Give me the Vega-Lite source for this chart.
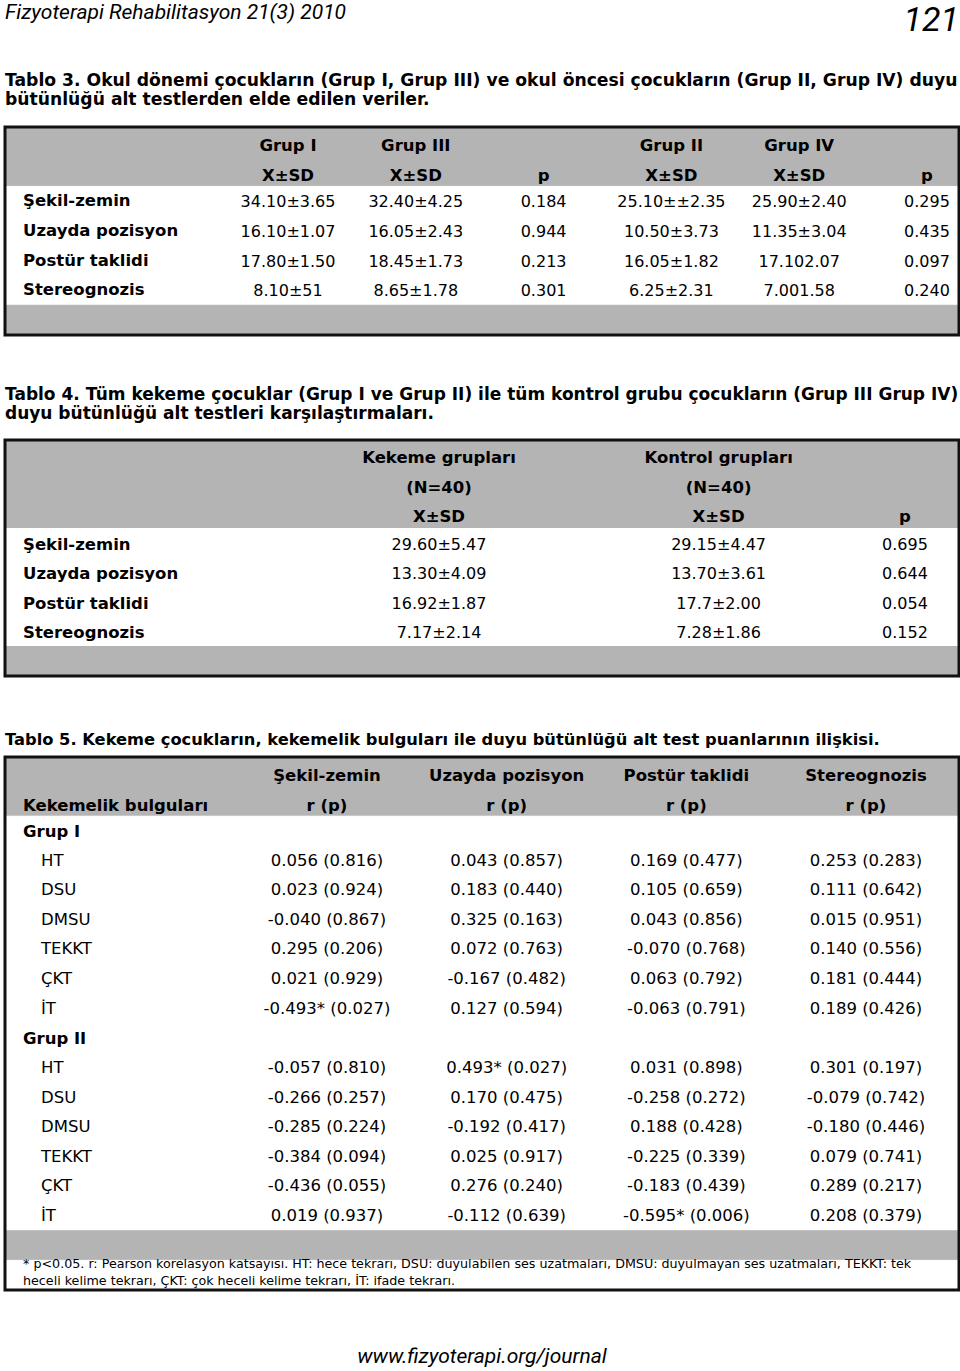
{
  "$schema": "https://vega.github.io/schema/vega-lite/v6.json",
  "padding": {"left": 3, "top": 0, "right": 3, "bottom": 0},
  "bounds": "flush",
  "spacing": 0,
  "background": "white",
  "config": {
    "view": {"stroke": null},
    "font": "DejaVu Sans",
    "concat": {"spacing": 0},
    "text": {"font": "DejaVu Sans", "fontSize": 16, "color": "#000000", "baseline": "middle"}
  },
  "datasets": {
    "page": [
      {"part": "journal", "text": "Fizyoterapi Rehabilitasyon 21(3) 2010"},
      {"part": "page", "text": "121"},
      {"part": "url", "text": "www.fizyoterapi.org/journal"}
    ],
    "titles": [
      {"table": "Tablo 3", "text": "Tablo 3. Okul dönemi çocukların (Grup I, Grup III) ve okul öncesi çocukların (Grup II, Grup IV) duyu\nbütünlüğü alt testlerden elde edilen veriler."},
      {"table": "Tablo 4", "text": "Tablo 4. Tüm kekeme çocuklar (Grup I ve Grup II) ile tüm kontrol grubu çocukların (Grup III Grup IV)\nduyu bütünlüğü alt testleri karşılaştırmaları."},
      {"table": "Tablo 5", "text": "Tablo 5. Kekeme çocukların, kekemelik bulguları ile duyu bütünlüğü alt test puanlarının ilişkisi."}
    ],
    "frames": [
      {"table": "Tablo 3"},
      {"table": "Tablo 4"},
      {"table": "Tablo 5"}
    ],
    "t3": [
      {"row": "h1", "zone": "head", "kind": "group", "label": "", "c1": "Grup I", "c2": "Grup III", "c3": "", "c4": "Grup II", "c5": "Grup IV", "c6": ""},
      {"row": "h2", "zone": "head", "kind": "group", "label": "", "c1": "X±SD", "c2": "X±SD", "c3": "p", "c4": "X±SD", "c5": "X±SD", "c6": "p"},
      {"row": "Şekil-zemin", "zone": "body", "kind": "group", "label": "Şekil-zemin", "c1": "34.10±3.65", "c2": "32.40±4.25", "c3": "0.184", "c4": "25.10±±2.35", "c5": "25.90±2.40", "c6": "0.295"},
      {"row": "Uzayda pozisyon", "zone": "body", "kind": "group", "label": "Uzayda pozisyon", "c1": "16.10±1.07", "c2": "16.05±2.43", "c3": "0.944", "c4": "10.50±3.73", "c5": "11.35±3.04", "c6": "0.435"},
      {"row": "Postür taklidi", "zone": "body", "kind": "group", "label": "Postür taklidi", "c1": "17.80±1.50", "c2": "18.45±1.73", "c3": "0.213", "c4": "16.05±1.82", "c5": "17.102.07", "c6": "0.097"},
      {"row": "Stereognozis", "zone": "body", "kind": "group", "label": "Stereognozis", "c1": "8.10±51", "c2": "8.65±1.78", "c3": "0.301", "c4": "6.25±2.31", "c5": "7.001.58", "c6": "0.240"},
      {"row": "foot", "zone": "foot", "kind": "group", "label": "", "c1": "", "c2": "", "c3": "", "c4": "", "c5": "", "c6": ""}
    ],
    "t4": [
      {"row": "h1", "zone": "head", "kind": "group", "label": "", "c1": "Kekeme grupları", "c2": "Kontrol grupları", "c3": ""},
      {"row": "h2", "zone": "head", "kind": "group", "label": "", "c1": "(N=40)", "c2": "(N=40)", "c3": ""},
      {"row": "h3", "zone": "head", "kind": "group", "label": "", "c1": "X±SD", "c2": "X±SD", "c3": "p"},
      {"row": "Şekil-zemin", "zone": "body", "kind": "group", "label": "Şekil-zemin", "c1": "29.60±5.47", "c2": "29.15±4.47", "c3": "0.695"},
      {"row": "Uzayda pozisyon", "zone": "body", "kind": "group", "label": "Uzayda pozisyon", "c1": "13.30±4.09", "c2": "13.70±3.61", "c3": "0.644"},
      {"row": "Postür taklidi", "zone": "body", "kind": "group", "label": "Postür taklidi", "c1": "16.92±1.87", "c2": "17.7±2.00", "c3": "0.054"},
      {"row": "Stereognozis", "zone": "body", "kind": "group", "label": "Stereognozis", "c1": "7.17±2.14", "c2": "7.28±1.86", "c3": "0.152"},
      {"row": "foot", "zone": "foot", "kind": "group", "label": "", "c1": "", "c2": "", "c3": ""}
    ],
    "t5": [
      {"row": "h1", "zone": "head", "kind": "group", "label": "", "c1": "Şekil-zemin", "c2": "Uzayda pozisyon", "c3": "Postür taklidi", "c4": "Stereognozis"},
      {"row": "h2", "zone": "head", "kind": "group", "label": "Kekemelik bulguları", "c1": "r (p)", "c2": "r (p)", "c3": "r (p)", "c4": "r (p)"},
      {"row": "I", "zone": "body", "kind": "group", "label": "Grup I", "c1": "", "c2": "", "c3": "", "c4": ""},
      {"row": "I-HT", "zone": "body", "kind": "item", "label": "HT", "c1": "0.056 (0.816)", "c2": "0.043 (0.857)", "c3": "0.169 (0.477)", "c4": "0.253 (0.283)"},
      {"row": "I-DSU", "zone": "body", "kind": "item", "label": "DSU", "c1": "0.023 (0.924)", "c2": "0.183 (0.440)", "c3": "0.105 (0.659)", "c4": "0.111 (0.642)"},
      {"row": "I-DMSU", "zone": "body", "kind": "item", "label": "DMSU", "c1": "-0.040 (0.867)", "c2": "0.325 (0.163)", "c3": "0.043 (0.856)", "c4": "0.015 (0.951)"},
      {"row": "I-TEKKT", "zone": "body", "kind": "item", "label": "TEKKT", "c1": "0.295 (0.206)", "c2": "0.072 (0.763)", "c3": "-0.070 (0.768)", "c4": "0.140 (0.556)"},
      {"row": "I-ÇKT", "zone": "body", "kind": "item", "label": "ÇKT", "c1": "0.021 (0.929)", "c2": "-0.167 (0.482)", "c3": "0.063 (0.792)", "c4": "0.181 (0.444)"},
      {"row": "I-İT", "zone": "body", "kind": "item", "label": "İT", "c1": "-0.493* (0.027)", "c2": "0.127 (0.594)", "c3": "-0.063 (0.791)", "c4": "0.189 (0.426)"},
      {"row": "II", "zone": "body", "kind": "group", "label": "Grup II", "c1": "", "c2": "", "c3": "", "c4": ""},
      {"row": "II-HT", "zone": "body", "kind": "item", "label": "HT", "c1": "-0.057 (0.810)", "c2": "0.493* (0.027)", "c3": "0.031 (0.898)", "c4": "0.301 (0.197)"},
      {"row": "II-DSU", "zone": "body", "kind": "item", "label": "DSU", "c1": "-0.266 (0.257)", "c2": "0.170 (0.475)", "c3": "-0.258 (0.272)", "c4": "-0.079 (0.742)"},
      {"row": "II-DMSU", "zone": "body", "kind": "item", "label": "DMSU", "c1": "-0.285 (0.224)", "c2": "-0.192 (0.417)", "c3": "0.188 (0.428)", "c4": "-0.180 (0.446)"},
      {"row": "II-TEKKT", "zone": "body", "kind": "item", "label": "TEKKT", "c1": "-0.384 (0.094)", "c2": "0.025 (0.917)", "c3": "-0.225 (0.339)", "c4": "0.079 (0.741)"},
      {"row": "II-ÇKT", "zone": "body", "kind": "item", "label": "ÇKT", "c1": "-0.436 (0.055)", "c2": "0.276 (0.240)", "c3": "-0.183 (0.439)", "c4": "0.289 (0.217)"},
      {"row": "II-İT", "zone": "body", "kind": "item", "label": "İT", "c1": "0.019 (0.937)", "c2": "-0.112 (0.639)", "c3": "-0.595* (0.006)", "c4": "0.208 (0.379)"},
      {"row": "foot", "zone": "foot", "kind": "group", "label": "", "c1": "", "c2": "", "c3": "", "c4": ""},
      {"row": "note", "zone": "note", "kind": "group", "label": "* p<0.05. r: Pearson korelasyon katsayısı. HT: hece tekrarı, DSU: duyulabilen ses uzatmaları, DMSU: duyulmayan ses uzatmaları, TEKKT: tek\nheceli kelime tekrarı, ÇKT: çok heceli kelime tekrarı, İT: ifade tekrarı.", "c1": "", "c2": "", "c3": "", "c4": ""}
    ]
  },
  "vconcat": [
    {
      "width": 954, "height": 50,
      "data": {"name": "page"},
      "encoding": {
        "x": {"field": "part", "type": "nominal", "scale": {"type": "point", "domain": ["journal", "page"], "padding": 0}, "axis": null},
        "text": {"field": "text"}
      },
      "layer": [
        {"transform": [{"filter": "datum.part == 'journal'"}], "mark": {"type": "text", "align": "left", "font": "Roboto", "fontStyle": "italic", "fontSize": 21, "dy": -12}},
        {"transform": [{"filter": "datum.part == 'page'"}], "mark": {"type": "text", "align": "right", "font": "Roboto", "fontStyle": "italic", "fontSize": 34, "dy": -4}}
      ]
    },
    {
      "width": 954, "height": 77,
      "data": {"name": "titles"},
      "transform": [{"filter": "datum.table == 'Tablo 3'"}],
      "mark": {"type": "text", "align": "left", "fontWeight": "bold", "fontSize": 17.2, "lineBreak": "\n", "lineHeight": 19, "dy": -7.5},
      "encoding": {
        "x": {"field": "table", "type": "nominal", "scale": {"type": "point", "padding": 0, "align": 0}, "axis": null},
        "text": {"field": "text"}
      }
    },
    {
      "width": 954, "height": 208,
      "view": {"fill": "white"},
      "layer": [
        {
          "data": {"name": "t3"},
          "encoding": {
            "y": {"field": "row", "type": "nominal", "sort": null, "scale": {"type": "band", "domain": ["h1", "h2", "Şekil-zemin", "Uzayda pozisyon", "Postür taklidi", "Stereognozis", "foot"], "paddingInner": 0, "paddingOuter": 0}, "axis": null}
          },
          "layer": [
            {"mark": {"type": "rect", "strokeWidth": 1},
             "encoding": {
               "fill": {"field": "zone", "type": "nominal", "scale": {"domain": ["head", "body", "foot", "note"], "range": ["#b4b4b4", "#ffffff", "#b4b4b4", "#ffffff"]}, "legend": null},
               "stroke": {"field": "zone", "type": "nominal", "scale": {"domain": ["head", "body", "foot", "note"], "range": ["#b4b4b4", "#ffffff", "#b4b4b4", "#ffffff"]}, "legend": null}
             }},
            {"transform": [{"filter": "datum.kind == 'group' && datum.label != ''"}],
             "mark": {"type": "text", "align": "left", "fontWeight": "bold", "fontSize": 16.5},
             "encoding": {"x": {"field": "kind", "type": "nominal", "scale": {"type": "point", "domain": ["group", "item"], "range": [18, 36], "padding": 0}, "axis": null}, "text": {"field": "label"}}},
            {"transform": [{"fold": ["c1", "c2", "c3", "c4", "c5", "c6"], "as": ["col", "value"]}, {"filter": "datum.zone == 'head' && datum.value != ''"}],
             "mark": {"type": "text", "align": "center", "fontWeight": "bold", "fontSize": 16.5, "dy": 4},
             "encoding": {"x": {"field": "col", "type": "nominal", "scale": {"type": "point", "domain": ["c1", "c2", "c3", "c4", "c5", "c6"], "range": [283, 922], "padding": 0}, "axis": null}, "text": {"field": "value"}}},
            {"transform": [{"fold": ["c1", "c2", "c3", "c4", "c5", "c6"], "as": ["col", "value"]}, {"filter": "datum.zone == 'body' && datum.value != ''"}],
             "mark": {"type": "text", "align": "center", "fontSize": 16, "dy": 1},
             "encoding": {"x": {"field": "col", "type": "nominal", "scale": {"type": "point", "domain": ["c1", "c2", "c3", "c4", "c5", "c6"], "range": [283, 922], "padding": 0}, "axis": null}, "text": {"field": "value"}}}
          ],
          "resolve": {"scale": {"x": "independent"}}
        },
        {
          "data": {"name": "frames"},
          "transform": [{"filter": "datum.table == 'Tablo 3'"}],
          "mark": {"type": "rect", "fill": null, "fillOpacity": 0, "stroke": "#111111", "strokeWidth": 3},
          "encoding": {}
        }
      ],
      "resolve": {"scale": {"x": "independent"}}
    },
    {
      "width": 954, "height": 105,
      "data": {"name": "titles"},
      "transform": [{"filter": "datum.table == 'Tablo 4'"}],
      "mark": {"type": "text", "align": "left", "fontWeight": "bold", "fontSize": 17, "lineBreak": "\n", "lineHeight": 19, "dy": 7},
      "encoding": {
        "x": {"field": "table", "type": "nominal", "scale": {"type": "point", "padding": 0, "align": 0}, "axis": null},
        "text": {"field": "text"}
      }
    },
    {
      "width": 954, "height": 236,
      "view": {"fill": "white"},
      "layer": [
        {
          "data": {"name": "t4"},
          "encoding": {
            "y": {"field": "row", "type": "nominal", "sort": null, "scale": {"type": "band", "domain": ["h1", "h2", "h3", "Şekil-zemin", "Uzayda pozisyon", "Postür taklidi", "Stereognozis", "foot"], "paddingInner": 0, "paddingOuter": 0}, "axis": null}
          },
          "layer": [
            {"mark": {"type": "rect", "strokeWidth": 1},
             "encoding": {
               "fill": {"field": "zone", "type": "nominal", "scale": {"domain": ["head", "body", "foot", "note"], "range": ["#b4b4b4", "#ffffff", "#b4b4b4", "#ffffff"]}, "legend": null},
               "stroke": {"field": "zone", "type": "nominal", "scale": {"domain": ["head", "body", "foot", "note"], "range": ["#b4b4b4", "#ffffff", "#b4b4b4", "#ffffff"]}, "legend": null}
             }},
            {"transform": [{"filter": "datum.kind == 'group' && datum.label != ''"}],
             "mark": {"type": "text", "align": "left", "fontWeight": "bold", "fontSize": 16.5, "dy": 1.5},
             "encoding": {"x": {"field": "kind", "type": "nominal", "scale": {"type": "point", "domain": ["group", "item"], "range": [18, 36], "padding": 0}, "axis": null}, "text": {"field": "label"}}},
            {"transform": [{"fold": ["c1", "c2", "c3"], "as": ["col", "value"]}, {"filter": "datum.zone == 'head' && datum.value != ''"}],
             "mark": {"type": "text", "align": "center", "fontWeight": "bold", "fontSize": 16.5, "dy": 3.5},
             "encoding": {"x": {"field": "col", "type": "nominal", "scale": {"type": "point", "domain": ["c1", "s1", "s2", "c2", "s3", "c3"], "range": [434, 900], "padding": 0}, "axis": null}, "text": {"field": "value"}}},
            {"transform": [{"fold": ["c1", "c2", "c3"], "as": ["col", "value"]}, {"filter": "datum.zone == 'body' && datum.value != ''"}],
             "mark": {"type": "text", "align": "center", "fontSize": 16, "dy": 1.5},
             "encoding": {"x": {"field": "col", "type": "nominal", "scale": {"type": "point", "domain": ["c1", "s1", "s2", "c2", "s3", "c3"], "range": [434, 900], "padding": 0}, "axis": null}, "text": {"field": "value"}}}
          ],
          "resolve": {"scale": {"x": "independent"}}
        },
        {
          "data": {"name": "frames"},
          "transform": [{"filter": "datum.table == 'Tablo 4'"}],
          "mark": {"type": "rect", "fill": null, "fillOpacity": 0, "stroke": "#111111", "strokeWidth": 3},
          "encoding": {}
        }
      ],
      "resolve": {"scale": {"x": "independent"}}
    },
    {
      "width": 954, "height": 81,
      "data": {"name": "titles"},
      "transform": [{"filter": "datum.table == 'Tablo 5'"}],
      "mark": {"type": "text", "align": "left", "fontWeight": "bold", "fontSize": 16.3, "lineBreak": "\n", "lineHeight": 19, "dy": 23},
      "encoding": {
        "x": {"field": "table", "type": "nominal", "scale": {"type": "point", "padding": 0, "align": 0}, "axis": null},
        "text": {"field": "text"}
      }
    },
    {
      "width": 954, "height": 533,
      "view": {"fill": "white"},
      "layer": [
        {
          "data": {"name": "t5"},
          "encoding": {
            "y": {"field": "row", "type": "nominal", "sort": null, "scale": {"type": "band", "domain": ["h1", "h2", "I", "I-HT", "I-DSU", "I-DMSU", "I-TEKKT", "I-ÇKT", "I-İT", "II", "II-HT", "II-DSU", "II-DMSU", "II-TEKKT", "II-ÇKT", "II-İT", "foot", "note"], "paddingInner": 0, "paddingOuter": 0}, "axis": null}
          },
          "layer": [
            {"mark": {"type": "rect", "strokeWidth": 1},
             "encoding": {
               "fill": {"field": "zone", "type": "nominal", "scale": {"domain": ["head", "body", "foot", "note"], "range": ["#b4b4b4", "#ffffff", "#b4b4b4", "#ffffff"]}, "legend": null},
               "stroke": {"field": "zone", "type": "nominal", "scale": {"domain": ["head", "body", "foot", "note"], "range": ["#b4b4b4", "#ffffff", "#b4b4b4", "#ffffff"]}, "legend": null}
             }},
            {"transform": [{"filter": "datum.kind == 'group' && datum.label != '' && datum.zone == 'body'"}],
             "mark": {"type": "text", "align": "left", "fontWeight": "bold", "fontSize": 16.5, "dy": 1},
             "encoding": {"x": {"field": "kind", "type": "nominal", "scale": {"type": "point", "domain": ["group", "item"], "range": [18, 36], "padding": 0}, "axis": null}, "text": {"field": "label"}}},
            {"transform": [{"filter": "datum.kind == 'group' && datum.label != '' && datum.zone == 'head'"}],
             "mark": {"type": "text", "align": "left", "fontWeight": "bold", "fontSize": 16.5, "dy": 4.5},
             "encoding": {"x": {"field": "kind", "type": "nominal", "scale": {"type": "point", "domain": ["group", "item"], "range": [18, 36], "padding": 0}, "axis": null}, "text": {"field": "label"}}},
            {"transform": [{"filter": "datum.kind == 'item'"}],
             "mark": {"type": "text", "align": "left", "fontSize": 16.5},
             "encoding": {"x": {"field": "kind", "type": "nominal", "scale": {"type": "point", "domain": ["group", "item"], "range": [18, 36], "padding": 0}, "axis": null}, "text": {"field": "label"}}},
            {"transform": [{"filter": "datum.zone == 'note'"}],
             "mark": {"type": "text", "align": "left", "fontSize": 12.7, "lineBreak": "\n", "lineHeight": 17, "dy": -11},
             "encoding": {"x": {"field": "kind", "type": "nominal", "scale": {"type": "point", "domain": ["group", "item"], "range": [18, 36], "padding": 0}, "axis": null}, "text": {"field": "label"}}},
            {"transform": [{"fold": ["c1", "c2", "c3", "c4"], "as": ["col", "value"]}, {"filter": "datum.zone == 'head' && datum.value != ''"}],
             "mark": {"type": "text", "align": "center", "fontWeight": "bold", "fontSize": 16.5, "dy": 4.5},
             "encoding": {"x": {"field": "col", "type": "nominal", "scale": {"type": "point", "domain": ["c1", "c2", "c3", "c4"], "range": [322, 861], "padding": 0}, "axis": null}, "text": {"field": "value"}}},
            {"transform": [{"fold": ["c1", "c2", "c3", "c4"], "as": ["col", "value"]}, {"filter": "datum.zone == 'body' && datum.value != ''"}],
             "mark": {"type": "text", "align": "center", "fontSize": 16.5},
             "encoding": {"x": {"field": "col", "type": "nominal", "scale": {"type": "point", "domain": ["c1", "c2", "c3", "c4"], "range": [322, 861], "padding": 0}, "axis": null}, "text": {"field": "value"}}}
          ],
          "resolve": {"scale": {"x": "independent"}}
        },
        {
          "data": {"name": "frames"},
          "transform": [{"filter": "datum.table == 'Tablo 5'"}],
          "mark": {"type": "rect", "fill": null, "fillOpacity": 0, "stroke": "#111111", "strokeWidth": 3},
          "encoding": {}
        }
      ],
      "resolve": {"scale": {"x": "independent"}}
    },
    {
      "width": 954, "height": 81,
      "data": {"name": "page"},
      "transform": [{"filter": "datum.part == 'url'"}],
      "mark": {"type": "text", "align": "center", "font": "Roboto", "fontStyle": "italic", "fontSize": 21, "dy": 26},
      "encoding": {
        "x": {"field": "part", "type": "nominal", "scale": {"type": "point", "padding": 0}, "axis": null},
        "text": {"field": "text"}
      }
    }
  ]
}
